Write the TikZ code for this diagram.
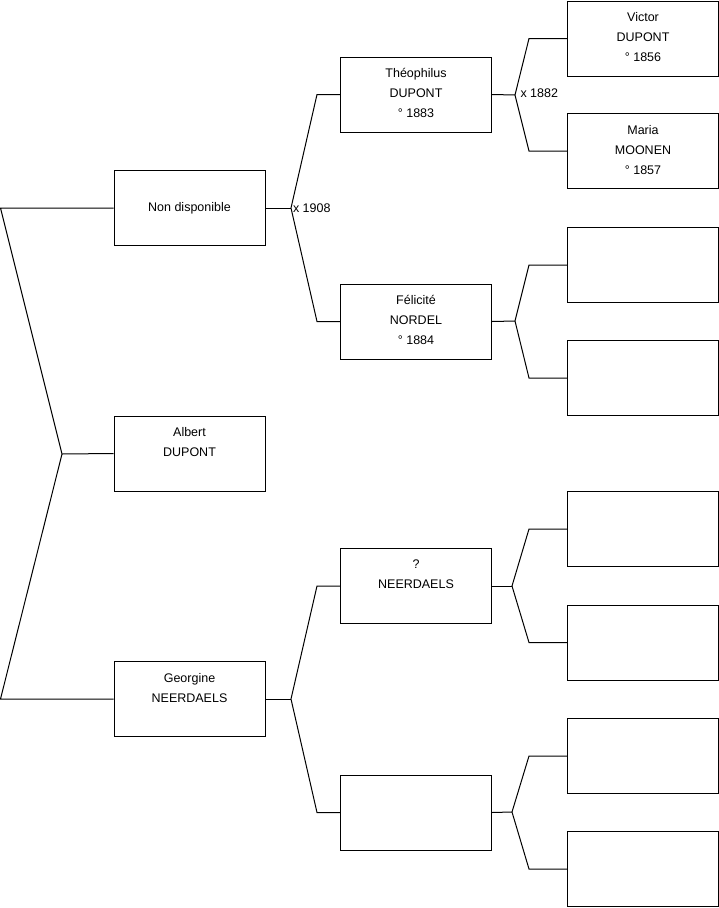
\documentclass[tikz,border=0pt]{standalone}
\usepackage{fontspec}
\setmainfont{Liberation Sans}
\begin{document}
\begin{tikzpicture}[x=1pt, y=-1pt, line width=1pt,
    person/.style = {draw, rectangle, minimum width=151pt, minimum height=75pt, inner sep=0pt},
    txt/.style = {anchor=north, align=center, inner sep=0pt, font=\fontsize{12.5}{20}\selectfont},
    mar/.style = {anchor=west, inner sep=0pt, font=\fontsize{12.5}{20}\selectfont}]
\useasboundingbox (0,0) rectangle (719,908);
% generation 1 and 2
\node[person] (1) at (189.5,453.5) {};
\node[person, font=\fontsize{12.5}{20}\selectfont] (2) at (189.5,208) {Non disponible};
\node[person] (3) at (189.5,699) {};
\node[txt] at ([yshift=-11.5pt]1.north) {Albert\\DUPONT};
\node[txt] at ([yshift=-11.5pt]3.north) {Georgine\\NEERDAELS};
% generation 3
\node[person] (4) at (416,94.5) {};
\node[person] (5) at (416,321.5) {};
\node[person] (6) at (416,586) {};
\node[person] (7) at (416,812.5) {};
\node[txt] at ([yshift=-11.5pt]4.north) {Théophilus\\DUPONT\\° 1883};
\node[txt] at ([yshift=-11.5pt]5.north) {Félicité\\NORDEL\\° 1884};
\node[txt] at ([yshift=-11.5pt]6.north) {?\\NEERDAELS};
% generation 4
\node[person] (8) at (643,38.5) {};
\node[person] (9) at (643,151) {};
\node[person] (10) at (643,265) {};
\node[person] (11) at (643,378) {};
\node[person] (12) at (643,529) {};
\node[person] (13) at (643,642.5) {};
\node[person] (14) at (643,756) {};
\node[person] (15) at (643,869) {};
\node[txt] at ([yshift=-11.5pt]8.north) {Victor\\DUPONT\\° 1856};
\node[txt] at ([yshift=-11.5pt]9.north) {Maria\\MOONEN\\° 1857};
% forks
\coordinate (f1) at (62,454);
\coordinate (f2) at (291,208);
\coordinate (f3) at (291,699);
\coordinate (f4) at (515,95);
\coordinate (f5) at (515,321);
\coordinate (f6) at (512,586);
\coordinate (f7) at (512,812);
\draw (2.west) -- ++(-113,0) -- (f1) -- ([xshift=-113pt]3.west) -- (3.west);
\draw (f1) -- (1.west);
\draw (2.east) -- (f2);
\draw (4.west) -- ++(-23,0) -- (f2) -- ([xshift=-23pt]5.west) -- (5.west);
\draw (3.east) -- (f3);
\draw (6.west) -- ++(-23,0) -- (f3) -- ([xshift=-23pt]7.west) -- (7.west);
\draw (4.east) -- (f4);
\draw (8.west) -- ++(-38,0) -- (f4) -- ([xshift=-38pt]9.west) -- (9.west);
\draw (5.east) -- (f5);
\draw (10.west) -- ++(-38,0) -- (f5) -- ([xshift=-38pt]11.west) -- (11.west);
\draw (6.east) -- (f6);
\draw (12.west) -- ++(-38,0) -- (f6) -- ([xshift=-38pt]13.west) -- (13.west);
\draw (7.east) -- (f7);
\draw (14.west) -- ++(-38,0) -- (f7) -- ([xshift=-38pt]15.west) -- (15.west);
% marriages
\node[mar] (m2) at (292.5,208) {x 1908};
\node[mar] (m4) at (520,93) {x 1882};
\end{tikzpicture}
\end{document}
